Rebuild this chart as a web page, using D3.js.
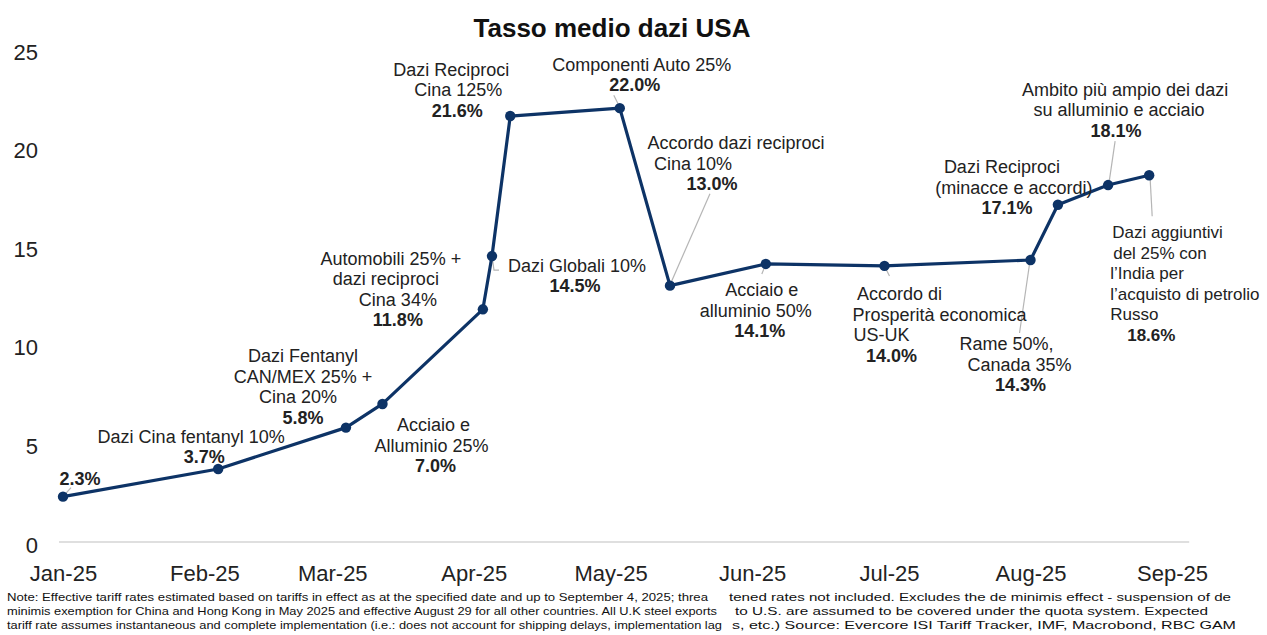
<!DOCTYPE html>
<html>
<head>
<meta charset="utf-8">
<script src="https://cdn.jsdelivr.net/npm/d3@7"></script>
<style>
  body { margin: 0; background: #fff; }
  text { font-family: "Liberation Sans", Arial, sans-serif; }
</style>
</head>
<body>
<div id="chart"></div>
<script>
// data
var dates = ["2025-01-01", "2025-02-04", "2025-03-04", "2025-03-12", "2025-04-03", "2025-04-05",
  "2025-04-09", "2025-05-03", "2025-05-14", "2025-06-04", "2025-06-30", "2025-08-01",
  "2025-08-07", "2025-08-18", "2025-08-27"];
var values = [2.3, 3.7, 5.8, 7.0, 11.8, 14.5, 21.6, 22.0, 13.0, 14.1, 14.0, 14.3, 17.1, 18.1, 18.6];
var labels = [
  [],
  ["Dazi Cina fentanyl 10%"],
  ["Dazi Fentanyl", "CAN/MEX 25% +", "Cina 20%"],
  ["Acciaio e", "Alluminio 25%"],
  ["Automobili 25% +", "dazi reciproci", "Cina 34%"],
  ["Dazi Globali 10%"],
  ["Dazi Reciproci", "Cina 125%"],
  ["Componenti Auto 25%"],
  ["Accordo dazi reciproci", "Cina 10%"],
  ["Acciaio e", "alluminio 50%"],
  ["Accordo di", "Prosperità economica", "US-UK"],
  ["Rame 50%,", "Canada 35%"],
  ["Dazi Reciproci", "(minacce e accordi)"],
  ["Ambito più ampio dei dazi", "su alluminio e acciaio"],
  ["Dazi aggiuntivi", "del 25% con", "l’India per", "l’acquisto di petrolio", "Russo"]
];
var xTicks = ["2025-01-01", "2025-02-01", "2025-03-01", "2025-04-01", "2025-05-01",
  "2025-06-01", "2025-07-01", "2025-08-01", "2025-09-01"];
var yTicks = [0, 5, 10, 15, 20, 25];
var title = "Tasso medio dazi USA";
var noteLeft = [
  "Note: Effective tariff rates estimated based on tariffs in effect as at the specified date and up to September 4, 2025; threa",
  "minimis exemption for China and Hong Kong in May 2025 and effective August 29 for all other countries. All U.K steel exports",
  "tariff rate assumes instantaneous and complete implementation (i.e.: does not account for shipping delays, implementation lag"
];
var noteRight = [
  "tened rates not included. Excludes the de minimis effect  - suspension of de",
  "to U.S. are assumed to be covered under the quota system. Expected",
  "s, etc.) Source: Evercore ISI Tariff Tracker, IMF, Macrobond, RBC GAM"
];

// label placement relative to each point (dx, dy of first line centre, per-line x shifts)
var place = [
  { dx: 17, dy: -18, xs: [0], lead: [[0, 0], [8, -9]] },
  { dx: -27, dy: -33, xs: [0, 13] },
  { dx: -43, dy: -72, xs: [0, 0, -5, 0] },
  { dx: 51, dy: 21, xs: [0, -2, 2] },
  { dx: -92, dy: -51, xs: [0, -5, 7, 7] },
  { dx: 85, dy: 9, xs: [0, -2], lead: [[0, 0], [2, 14], [7, 14]] },
  { dx: -59, dy: -47, xs: [0, 7, 6] },
  { dx: 22, dy: -44, xs: [0, -7], lead: [[-1, -3], [-6, -13]] },
  { dx: 66, dy: -143, xs: [0, -43, -24], lead: [[1, -3], [40, -92]] },
  { dx: -4, dy: 26, xs: [0, -6, -2], lead: [[0, 0], [-4, 10]] },
  { dx: 15, dy: 28, xs: [0, 40, -18, -8], lead: [[0, 0], [5, 10]] },
  { dx: -24, dy: 84, xs: [0, 13, 14], lead: [[-1, 4], [-11, 73]] },
  { dx: -56, dy: -38, xs: [0, 12, 5] },
  { dx: 17, dy: -96, xs: [0, -6, -9], lead: [[1, -3], [7, -44]] },
  { dx: -39, dy: 57, xs: [2, 3, 0, 0, 0, 17], anchor: "start", size: 17, lead: [[1, 4], [3, 41]] }
];

var W = 1267, H = 635;
var parse = d3.timeParse("%Y-%m-%d");
var lineH = 20.5;
var navy = "#0d3366";

var svg = d3.select("#chart").append("svg")
  .attr("width", W)
  .attr("height", H);

var x = d3.scaleTime()
  .domain([parse(xTicks[0]), parse(xTicks[xTicks.length - 1])])
  .range([63, 1172]);

var y = d3.scaleLinear()
  .domain([0, 25])
  .range([542, 49]);

var pts = dates.map(function (d, i) { return { date: parse(d), value: values[i], lines: labels[i], p: place[i] }; });

// title
svg.append("text")
  .attr("x", 612)
  .attr("y", 37)
  .attr("text-anchor", "middle")
  .style("font-size", "26px")
  .style("font-weight", "bold")
  .style("fill", "#111")
  .text(title);

// y axis labels
var yAxis = d3.axisLeft(y).tickValues(yTicks).tickSize(0).tickPadding(0);
var gy = svg.append("g")
  .attr("transform", "translate(38,3)")
  .call(yAxis);
gy.select(".domain").remove();
gy.selectAll("text")
  .style("font-size", "22px")
  .style("font-family", "'Liberation Sans', Arial, sans-serif")
  .style("fill", "#222");

// x axis labels
var xAxis = d3.axisBottom(x)
  .tickValues(xTicks.map(parse))
  .tickFormat(d3.timeFormat("%b-%y"))
  .tickSize(0).tickPadding(0);
var gx = svg.append("g")
  .attr("transform", "translate(0,565)")
  .call(xAxis);
gx.select(".domain").remove();
gx.selectAll("text")
  .style("font-size", "22px")
  .style("font-family", "'Liberation Sans', Arial, sans-serif")
  .style("fill", "#222");

// faint baseline
svg.append("line")
  .attr("x1", x.range()[0] - 4)
  .attr("x2", x(parse("2025-08-27")) + 40)
  .attr("y1", y(0))
  .attr("y2", y(0))
  .style("stroke", "#d4d4d4")
  .style("stroke-width", 1.5);

// leader lines
svg.selectAll(".lead")
  .data(pts.filter(function (d) { return d.p.lead; }))
  .enter()
  .append("polyline")
  .attr("class", "lead")
  .attr("points", function (d) {
    return d.p.lead.map(function (o) { return (x(d.date) + o[0]) + "," + (y(d.value) + o[1]); }).join(" ");
  })
  .style("fill", "none")
  .style("stroke", "#b5b5b5")
  .style("stroke-width", 1.2);

// line
var line = d3.line()
  .x(function (d) { return x(d.date); })
  .y(function (d) { return y(d.value); });
svg.append("path")
  .datum(pts)
  .attr("d", line)
  .style("fill", "none")
  .style("stroke", navy)
  .style("stroke-width", 3.2)
  .style("stroke-linejoin", "round");

svg.selectAll(".dot")
  .data(pts)
  .enter()
  .append("circle")
  .attr("class", "dot")
  .attr("cx", function (d) { return x(d.date); })
  .attr("cy", function (d) { return y(d.value); })
  .attr("r", 5.2)
  .style("fill", navy);

// annotations
pts.forEach(function (d) {
  var all = d.lines.map(function (t) { return { t: t, b: false }; });
  all.push({ t: d3.format(".1f")(d.value) + "%", b: true });
  var g = svg.append("g");
  all.forEach(function (l, j) {
    g.append("text")
      .attr("x", x(d.date) + d.p.dx + (d.p.xs[j] || 0))
      .attr("y", y(d.value) + d.p.dy + j * lineH)
      .attr("dy", "0.36em")
      .attr("text-anchor", d.p.anchor || "middle")
      .style("font-size", (d.p.size || 18) + "px")
      .style("font-weight", l.b ? "bold" : "normal")
      .style("fill", "#222")
      .text(l.t);
  });
});

// footnote
var noteY = [601, 615, 629];
var leftLen = [701, 710, 715];
var rightX = [729, 735, 732];
var rightLen = [502, 473, 504];
noteLeft.forEach(function (t, i) {
  svg.append("text")
    .attr("x", 7)
    .attr("y", noteY[i])
    .attr("textLength", leftLen[i])
    .attr("lengthAdjust", "spacingAndGlyphs")
    .style("font-size", "11.5px")
    .style("fill", "#111")
    .text(t);
  svg.append("text")
    .attr("x", rightX[i])
    .attr("y", noteY[i])
    .attr("textLength", rightLen[i])
    .attr("lengthAdjust", "spacingAndGlyphs")
    .style("font-size", "11.5px")
    .style("fill", "#111")
    .text(noteRight[i]);
});
</script>
</body>
</html>
